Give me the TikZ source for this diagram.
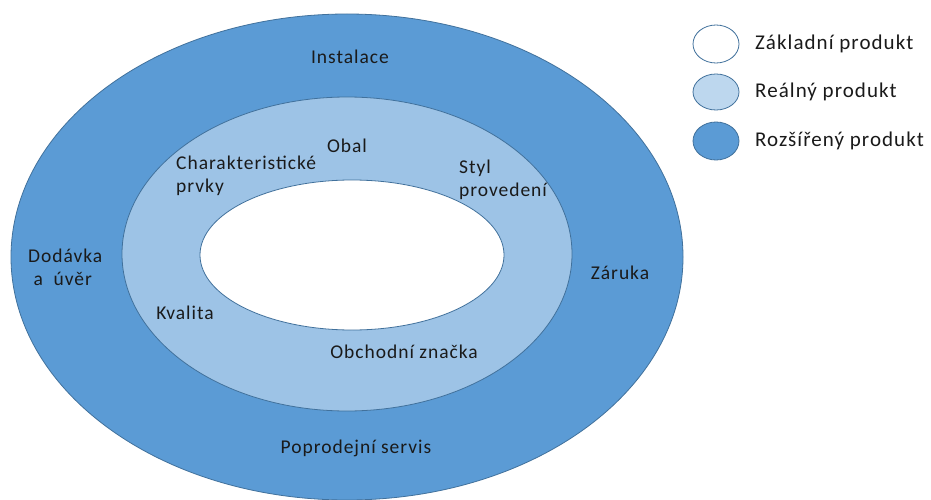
\documentclass[tikz,border=0pt]{standalone}
\usepackage{fontspec}
\setmainfont{Carlito}
\newfontfamily\spacedfont[LetterSpace=5]{Carlito}
\definecolor{outerblue}{HTML}{5B9BD5}
\definecolor{midblue}{HTML}{9DC3E6}
\definecolor{legmid}{HTML}{BDD7EE}
\definecolor{edgeblue}{HTML}{41719C}
\definecolor{txt}{HTML}{1A1A1A}
\begin{document}
\begin{tikzpicture}[x=1pt,y=-1pt,
  ring/.style={draw=edgeblue,line width=0.8pt},
  lbl/.style={font=\spacedfont\fontsize{19.5}{23}\selectfont,text=txt,inner sep=0pt},
  leglbl/.style={font=\spacedfont\fontsize{21}{25}\selectfont,text=txt,inner sep=0pt,anchor=west}]
\useasboundingbox (0,0) rectangle (931,500);
\fill[white] (0,0) rectangle (931,500);
% rings
\draw[ring,fill=outerblue] (347,257) ellipse [x radius=336, y radius=243];
\draw[ring,fill=midblue] (347,254) ellipse [x radius=225, y radius=157];
\draw[ring,fill=white] (352,255) ellipse [x radius=152, y radius=75];
% labels
\node[lbl] (inst) at (350,57) {Instalace};
\node[lbl] (obal) at (347,146) {Obal};
\node[lbl,anchor=north west,align=left] (char) at (176,156) {Charakteristické\\prvky};
\node[lbl,anchor=north west,align=left] (styl) at (459,160) {Styl\\provedení};
\node[lbl,anchor=north west,align=left] (dod) at (28,249) {Dodávka\\\ a\ \ úvěr};
\node[lbl] (zar) at (620,273) {Záruka};
\node[lbl] (kval) at (185,313) {Kvalita};
\node[lbl] (obch) at (404,352) {Obchodní značka};
\node[lbl] (pop) at (356,448) {Poprodejní servis};
% legend
\draw[ring,fill=white] (716,44) ellipse [x radius=23, y radius=19];
\draw[ring,fill=legmid] (716,92) ellipse [x radius=23, y radius=18];
\draw[ring,fill=outerblue] (716,141) ellipse [x radius=23, y radius=19];
\node[leglbl] (l1) at (755,44) {Základní produkt};
\node[leglbl] (l2) at (755,92) {Reálný produkt};
\node[leglbl] (l3) at (755,141) {Rozšířený produkt};
\end{tikzpicture}
\end{document}
